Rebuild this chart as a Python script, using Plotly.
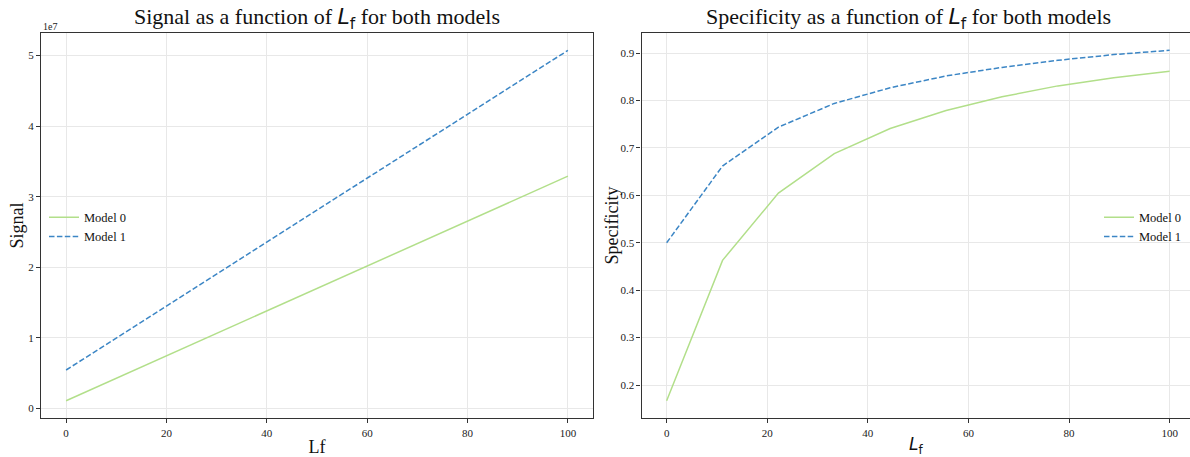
import plotly.graph_objects as go

lf = [0, 11.11, 22.22, 33.33, 44.44, 55.56, 66.67, 77.78, 88.89, 100]
signal_m0 = [1.1e6, 4.63e6, 8.17e6, 11.7e6, 15.2e6, 18.8e6, 22.3e6, 25.8e6, 29.4e6, 32.9e6]
signal_m1 = [5.46e6, 10.5e6, 15.5e6, 20.5e6, 25.6e6, 30.6e6, 35.6e6, 40.7e6, 45.7e6, 50.7e6]
spec_m0 = [0.167, 0.463, 0.605, 0.688, 0.741, 0.779, 0.808, 0.831, 0.848, 0.862]
spec_m1 = [0.500, 0.662, 0.744, 0.794, 0.827, 0.852, 0.870, 0.885, 0.897, 0.906]
signal_ticks = [0, 1e7, 2e7, 3e7, 4e7, 5e7]
signal_ticktext = ["0", "1", "2", "3", "4", "5"]

GREEN = "#b2df8a"
BLUE = "#3c86c5"
DASH = "5.5px,2.4px"
FONT = "Liberation Serif"
LSUB = '<span style="font-family:DejaVu Sans"><i>L</i><sub>f</sub></span>'

fig = go.Figure()
fig.add_trace(go.Scatter(x=lf, y=signal_m0, mode="lines", name="Model 0",
                         line=dict(color=GREEN, width=1.5), xaxis="x", yaxis="y", legend="legend"))
fig.add_trace(go.Scatter(x=lf, y=signal_m1, mode="lines", name="Model 1",
                         line=dict(color=BLUE, width=1.5, dash=DASH), xaxis="x", yaxis="y", legend="legend"))
fig.add_trace(go.Scatter(x=lf, y=spec_m0, mode="lines", name="Model 0",
                         line=dict(color=GREEN, width=1.5), xaxis="x2", yaxis="y2", legend="legend2"))
fig.add_trace(go.Scatter(x=lf, y=spec_m1, mode="lines", name="Model 1",
                         line=dict(color=BLUE, width=1.5, dash=DASH), xaxis="x2", yaxis="y2", legend="legend2"))

axis_common = dict(showgrid=True, gridcolor="#e8e8e8", gridwidth=1, zeroline=False,
                   showline=True, linecolor="#333333", linewidth=1.2,
                   ticks="outside", ticklen=4, tickcolor="#333333",
                   tickfont=dict(family=FONT, size=11, color="#222222"))

ydom = [36 / 457, 424 / 457]
ymid = (ydom[0] + ydom[1]) / 2
fig.update_layout(
    width=1190, height=457,
    margin=dict(l=0, r=0, t=0, b=0),
    paper_bgcolor="white", plot_bgcolor="white",
    font=dict(family=FONT, color="#111111"),
    xaxis=dict(domain=[41 / 1190, 593 / 1190], range=[-5, 105], anchor="y", mirror=True,
               tickvals=[0, 20, 40, 60, 80, 100],
               title=dict(text="Lf", font=dict(family=FONT, size=18), standoff=6), **axis_common),
    yaxis=dict(domain=ydom, range=[-1.37e7 / 10, 5.32e7], anchor="x", mirror=True,
               tickvals=signal_ticks, ticktext=signal_ticktext, **axis_common),
    xaxis2=dict(domain=[641.5 / 1190, 1.0], range=[-5, 104.05], anchor="y2", mirror=True,
                tickvals=[0, 20, 40, 60, 80, 100],
                title=dict(text=LSUB, font=dict(family=FONT, size=17), standoff=6), **axis_common),
    yaxis2=dict(domain=ydom, range=[0.130, 0.943], anchor="x2", mirror=False,
                tickvals=[0.2, 0.3, 0.4, 0.5, 0.6, 0.7, 0.8, 0.9],
                ticktext=["0.2", "0.3", "0.4", "0.5", "0.6", "0.7", "0.8", "0.9"], **axis_common),
    legend=dict(x=44 / 1190, y=(457 - 204) / 457, xanchor="left", yanchor="top",
                bgcolor="rgba(255,255,255,0)", font=dict(family=FONT, size=12.5),
                tracegroupgap=0, itemwidth=30),
    legend2=dict(x=1187 / 1190, y=(457 - 204) / 457, xanchor="right", yanchor="top",
                 bgcolor="rgba(255,255,255,0)", font=dict(family=FONT, size=12.5),
                 tracegroupgap=0, itemwidth=30),
    annotations=[
        dict(text="Signal as a function of " + LSUB + " for both models", x=(41 + 593) / 2 / 1190,
             y=(457 - 19) / 457, xref="paper", yref="paper", showarrow=False,
             font=dict(family=FONT, size=22, color="#111111"), xanchor="center", yanchor="middle"),
        dict(text="Specificity as a function of " + LSUB + " for both models",
             x=(642 + 1190) / 2 / 1190 - 0.006,
             y=(457 - 19) / 457, xref="paper", yref="paper", showarrow=False,
             font=dict(family=FONT, size=22, color="#111111"), xanchor="center", yanchor="middle"),
        dict(text="1e7", x=41 / 1190, y=(457 - 27) / 457, xref="paper", yref="paper",
             showarrow=False, xanchor="left", yanchor="middle",
             font=dict(family=FONT, size=10, color="#222222")),
        dict(text="Signal", x=17 / 1190, y=ymid, xref="paper", yref="paper", showarrow=False,
             textangle=-90, xanchor="center", yanchor="middle",
             font=dict(family=FONT, size=18, color="#111111")),
        dict(text="Specificity", x=612 / 1190, y=ymid, xref="paper", yref="paper", showarrow=False,
             textangle=-90, xanchor="center", yanchor="middle",
             font=dict(family=FONT, size=18, color="#111111")),
    ],
)

fig.write_html("out.html")
